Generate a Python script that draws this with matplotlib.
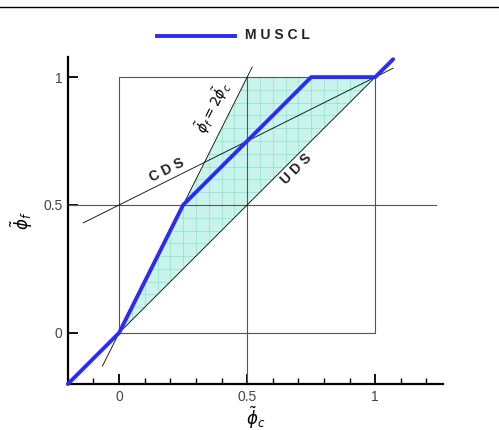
import numpy as np
import matplotlib
matplotlib.use('Agg')
import matplotlib.pyplot as plt
from matplotlib.patches import Polygon
from matplotlib.ticker import MultipleLocator

plt.rcParams['font.family'] = ['Liberation Sans', 'DejaVu Sans']
plt.rcParams['mathtext.fontset'] = 'dejavusans'

# MUSCL scheme in the normalized variable diagram
muscl_x = [-0.2, 0.0, 0.25, 0.75, 1.0, 1.07]
muscl_y = [-0.2, 0.0, 0.5, 1.0, 1.0, 1.07]

# reference lines
cds_x = [-0.14, 1.07]          # phi_f = 0.5 + 0.5 phi_c
uds_x = [0.0, 1.0]             # phi_f = phi_c
two_x = [-0.065, 0.52]         # phi_f = 2 phi_c

# TVD region corners
tvd_x = [0.0, 0.5, 1.0]
tvd_y = [0.0, 1.0, 1.0]

fig = plt.figure(figsize=(4.99, 4.30), dpi=100)
ax = fig.add_axes([0.136, 0.107, 0.752, 0.760])

# shaded TVD region with fine grid
poly = Polygon(list(zip(tvd_x, tvd_y)), closed=True, facecolor='#c9f4eb',
               edgecolor='none', zorder=1)
ax.add_patch(poly)
for g in np.arange(0.0, 1.0001, 0.05):
    l1 = ax.axvline(g, color='#92dfcf', lw=0.5, zorder=1.5)
    l2 = ax.axhline(g, color='#92dfcf', lw=0.5, zorder=1.5)
    l1.set_clip_path(poly)
    l2.set_clip_path(poly)

# box and cross lines
ax.plot([0, 1, 1, 0, 0], [0, 0, 1, 1, 0], color='#555555', lw=0.8, zorder=2)
ax.plot([0.5, 0.5], [-0.2, 1.0], color='#555555', lw=0.8, zorder=2)
ax.plot([-0.2, 1.237], [0.5, 0.5], color='#555555', lw=0.8, zorder=2)

cds_x = np.array(cds_x)
ax.plot(cds_x, 0.5 + 0.5 * cds_x, color='black', lw=0.6, zorder=3)
ax.plot(uds_x, uds_x, color='black', lw=0.6, zorder=3)
two_x = np.array(two_x)
ax.plot(two_x, 2 * two_x, color='black', lw=0.6, zorder=3)

ax.plot(muscl_x, muscl_y, color='#2b2bf2', lw=2.8, zorder=4,
        solid_capstyle='round', clip_on=False)

ax.text(0.365, 0.88, r'$\tilde{\phi}_f = 2\tilde{\phi}_c$', rotation=63.4,
        ha='center', va='center', fontsize=10)
ax.text(0.187, 0.635, 'C D S', rotation=26.6, ha='center', va='center',
        fontsize=10, fontweight='bold', color='#222222')
ax.text(0.69, 0.64, 'U D S', rotation=45, ha='center', va='center',
        fontsize=10, fontweight='bold', color='#222222')

ax.set_xlim(-0.2, 1.265)
ax.set_ylim(-0.2, 1.078)
for s in ['top', 'right']:
    ax.spines[s].set_visible(False)
for s in ['left', 'bottom']:
    ax.spines[s].set_linewidth(1.6)

ax.set_xticks([0, 0.5, 1])
ax.set_xticklabels(['0', '0.5', '1'])
ax.set_yticks([0, 0.5, 1])
ax.set_yticklabels(['0', '0.5', '1'])
ax.xaxis.set_minor_locator(MultipleLocator(0.1))
ax.tick_params(which='major', direction='in', length=7, width=1.3,
               labelsize=10, labelcolor='#444444', pad=4)
ax.tick_params(axis='x', which='minor', direction='in', length=4, width=1)

ax.set_xlabel(r'$\tilde{\phi}_c$', fontsize=12, labelpad=1)
ax.set_ylabel(r'$\tilde{\phi}_f$', fontsize=12, labelpad=6)

# legend at top
fig.add_artist(plt.Line2D([157 / 499, 235 / 499], [1 - 36 / 430, 1 - 36 / 430],
                          color='#2b2bf2', lw=2.8))
fig.text(245 / 499, 1 - 35 / 430, 'M U S C L', fontsize=10, fontweight='bold',
         va='center', ha='left', color='#222222')

# page rule
fig.add_artist(plt.Line2D([0, 1], [1 - 7 / 430, 1 - 7 / 430], color='black', lw=1))

fig.savefig('out.png', dpi=100)
